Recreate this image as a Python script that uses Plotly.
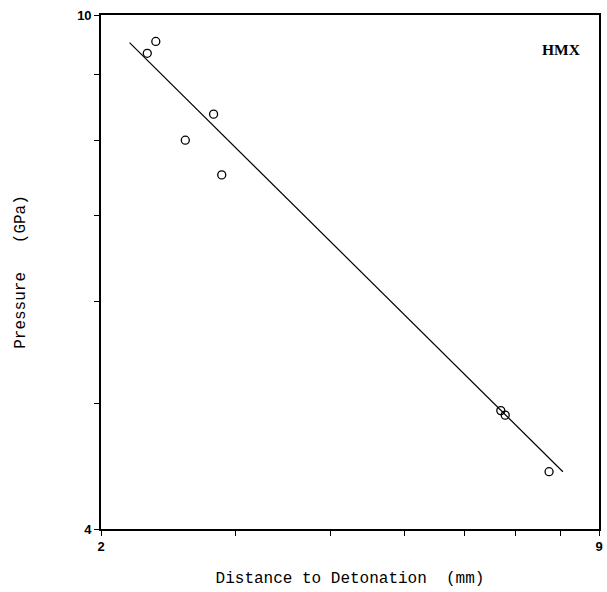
import plotly.graph_objects as go

# Data (log-log Pop plot, HMX)
distance_mm = [2.30, 2.36, 2.58, 2.81, 2.88, 6.69, 6.78, 7.74]
pressure_gpa = [9.34, 9.54, 8.00, 8.38, 7.52, 4.94, 4.90, 4.43]

fit_distance = [2.18, 8.07]
fit_pressure = [9.52, 4.43]

x_tick_vals = [2, 3, 4, 5, 6, 7, 8, 9]
x_tick_text = ["2", "", "", "", "", "", "", "9"]
y_tick_vals = [4, 5, 6, 7, 8, 9, 10]
y_tick_text = ["4", "", "", "", "", "", "10"]

mono = "Courier New, Liberation Mono, monospace"

fig = go.Figure()
fig.add_trace(go.Scatter(
    x=fit_distance, y=fit_pressure, mode="lines",
    line=dict(color="black", width=1.2), showlegend=False, hoverinfo="skip"))
fig.add_trace(go.Scatter(
    x=distance_mm, y=pressure_gpa, mode="markers",
    marker=dict(symbol="circle-open", size=8, color="black", line=dict(width=1.3)),
    showlegend=False))

fig.add_annotation(
    x=0.968, y=0.932, xref="paper", yref="paper", text="<b>HMX</b>", showarrow=False,
    xanchor="right", yanchor="middle",
    font=dict(family="Liberation Serif, Times New Roman, serif", size=15.5, color="black"))

axis_common = dict(
    showgrid=False, zeroline=False, showline=True, linecolor="black", linewidth=1.6,
    mirror=True, ticks="outside", ticklen=5, tickwidth=1.3, tickcolor="black",
    tickfont=dict(family="Liberation Sans, Arial, sans-serif", size=13, color="black",
                  weight="bold"),
)

fig.update_layout(
    width=607, height=592,
    margin=dict(l=101, r=4, t=15, b=63),
    paper_bgcolor="white", plot_bgcolor="white",
    xaxis=dict(
        type="log", range=[0.30103, 0.954243],
        tickvals=x_tick_vals, ticktext=x_tick_text,
        title=dict(text="Distance to Detonation  (mm)", standoff=18,
                   font=dict(family=mono, size=16, color="black")),
        **axis_common),
    yaxis=dict(
        type="log", range=[0.60206, 1.0],
        tickvals=y_tick_vals, ticktext=y_tick_text,
        title=dict(text="Pressure   (GPa)", standoff=48,
                   font=dict(family=mono, size=16, color="black")),
        **axis_common),
)

fig.write_html(
    "out.html",
    config={"displayModeBar": False},
    post_script="document.body.style.margin='0';document.body.style.overflow='hidden';",
)
